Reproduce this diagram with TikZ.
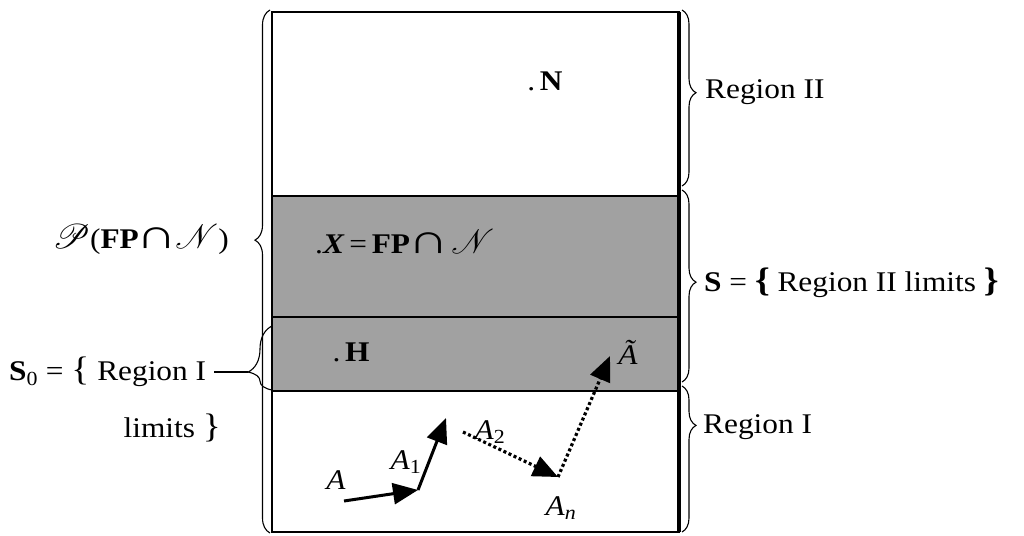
\documentclass[tikz,border=0pt]{standalone}
\usepackage{amsmath}
\usepackage{mathrsfs}
\usepackage{graphicx}
\usepackage{fontspec}
\setmainfont{Liberation Serif}[FakeStretch=1.1]
\usetikzlibrary{decorations.pathreplacing,arrows.meta}
\tikzset{
  boxline/.style={line width=2.4pt},
  lbl/.style={inner sep=0pt},
  brc/.style={decorate, line width=1.1pt},
  solidarrow/.style={line width=3pt, -{Triangle[length=25pt,width=21pt]}},
  dotarrow/.style={line width=3.2pt, dash pattern=on 3pt off 2.6pt, -{Triangle[length=25pt,width=21pt]}},
}
\newcommand{\bigbr}[1]{{\fontsize{34}{34}\selectfont #1}}
\newcommand{\bigcapsym}{\hspace{-2pt}\scalebox{1.8}[1.45]{\textbf{∩}}\hspace{-2pt}}
\newcommand{\scrbig}[1]{\resizebox{!}{24pt}{$\mathscr{#1}$}}
\begin{document}
\begin{tikzpicture}[x=1pt,y=-1pt,font=\fontsize{28.5}{34}\selectfont]
\useasboundingbox (0,0) rectangle (1024,535);
% shaded band
\fill[black!37] (272,196) rectangle (679,391);
% box
\draw[boxline] (272,12) rectangle (679,532);
\draw[line width=3.4pt] (679,12) -- (679,532);
\draw[boxline] (272,196) -- (679,196);
\draw[boxline] (272,317) -- (679,317);
\draw[boxline] (272,391) -- (679,391);
% braces left
\draw[brc, decoration={brace, amplitude=15pt, aspect=0.56}] (270,533) -- (270,10);
\draw[brc, decoration={brace, amplitude=24pt, aspect=0.28}] (272,390) -- (272,326);
\draw[line width=1.1pt] (248,372) -- (214,372);
% braces right
\draw[brc, decoration={brace, amplitude=14pt, aspect=0.47}] (682,10) -- (682,186);
\draw[brc, decoration={brace, amplitude=14pt, aspect=0.48}] (682,190) -- (682,382);
\draw[brc, decoration={brace, amplitude=14pt, aspect=0.27}] (682,386) -- (682,532);
% labels
\node[lbl, anchor=west] (r2) at (705,92) {Region II};
\node[lbl, anchor=west] (s) at (704,283) {\textbf{S} = \bigbr{\textbf{\{}}\ Region II limits\ \bigbr{\textbf{\}}}};
\node[lbl, anchor=west] (r1) at (703,427) {Region I};
\node[lbl, anchor=east] (p) at (229,240) {\scrbig{P}(\textbf{FP}\bigcapsym\scrbig{N})};
\node[lbl, anchor=west] (s0) at (9,372) {\textbf{S}\textsubscript{0} = \bigbr{\{} Region I};
\node[lbl, anchor=east] (lim) at (221,428) {limits \bigbr{\}}};
% inner labels
\node[lbl] (N) at (545,81) {.\,\textbf{N}};
\node[lbl, anchor=west] (X) at (315,242) {.\textbf{\textit{X}}\,=\,\textbf{FP}\bigcapsym\,\scrbig{N}};
\node[lbl] (H) at (351,352) {.\,\textbf{H}};
\node[lbl] (At) at (628,352) {\textit{Ã}};
\node[lbl] (A) at (336,480) {\textit{A}};
\node[lbl] (A1) at (406,462) {\textit{A}\textsubscript{1}};
\node[lbl] (A2) at (490,432) {\textit{A}\textsubscript{2}};
\node[lbl] (An) at (561,508) {\textit{A}\textsubscript{\textit{n}}};
% path points
\coordinate (p0) at (344,501);
\coordinate (p1) at (418,490);
\coordinate (p2) at (446,418);
\coordinate (p2b) at (463,432);
\coordinate (pn) at (558,477);
\coordinate (pt) at (610,356);
\draw[solidarrow] (p0) -- (p1);
\draw[solidarrow] (p1) -- (p2);
\draw[dotarrow] (p2b) -- (pn);
\draw[dotarrow] (pn) -- (pt);
\end{tikzpicture}
\end{document}
